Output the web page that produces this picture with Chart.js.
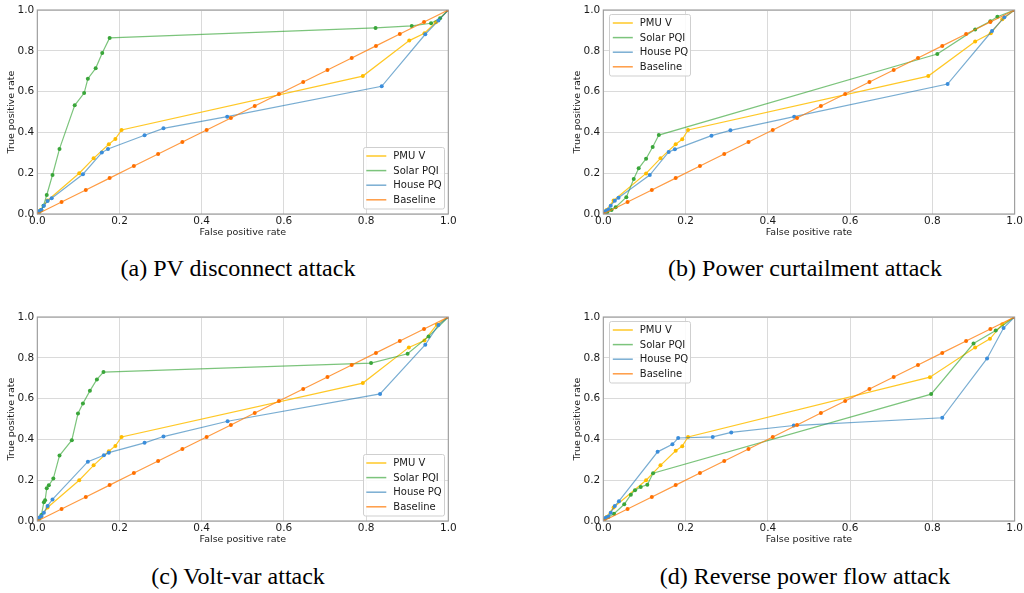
<!DOCTYPE html>
<html><head><meta charset="utf-8">
<script src="https://cdn.jsdelivr.net/npm/chart.js@4.4.1/dist/chart.umd.min.js"></script>
<style>
body{margin:0;background:#fff;width:1024px;height:593px;overflow:hidden;position:relative}
canvas{position:absolute}
.cap{position:absolute;font-family:"Liberation Serif","Times New Roman",serif;font-size:24px;color:#000;white-space:nowrap;transform:translate(-50%,-50%)}
</style></head><body>
<canvas id="ca" width="460" height="240" style="left:0;top:0"></canvas>
<canvas id="cb" width="458" height="240" style="left:566px;top:0"></canvas>
<canvas id="cc" width="460" height="240" style="left:0;top:307px"></canvas>
<canvas id="cd" width="458" height="240" style="left:566px;top:307px"></canvas>
<div class="cap" style="left:238px;top:268px">(a) PV disconnect attack</div>
<div class="cap" style="left:805px;top:268px">(b) Power curtailment attack</div>
<div class="cap" style="left:238px;top:576px">(c) Volt-var attack</div>
<div class="cap" style="left:805px;top:576px">(d) Reverse power flow attack</div>
<script>
// ---- data ----
const seriesNames = ["PMU V", "Solar PQI", "House PQ", "Baseline"];
const axisTicks = [0, 0.2, 0.4, 0.6, 0.8, 1.0];
const baseFpr = [0,0.059,0.118,0.176,0.235,0.294,0.353,0.412,0.471,0.529,0.588,0.647,0.706,0.765,0.824,0.882,0.941,1];
const baseTpr = [0,0.059,0.118,0.176,0.235,0.294,0.353,0.412,0.471,0.529,0.588,0.647,0.706,0.765,0.824,0.882,0.941,1];

// (a) PV disconnect attack
const aPmuFpr = [0,0.008,0.025,0.102,0.137,0.174,0.19,0.205,0.792,0.905,0.942,0.97,1];
const aPmuTpr = [0,0.02,0.066,0.2,0.273,0.342,0.368,0.412,0.676,0.85,0.886,0.94,1];
const aSolFpr = [0,0.005,0.01,0.015,0.023,0.037,0.054,0.091,0.114,0.123,0.142,0.158,0.176,0.823,0.911,0.958,0.98,1];
const aSolTpr = [0,0.01,0.02,0.04,0.093,0.191,0.319,0.533,0.593,0.663,0.714,0.789,0.863,0.912,0.922,0.935,0.96,1];
const aHouFpr = [0,0.005,0.01,0.016,0.025,0.035,0.111,0.157,0.172,0.261,0.307,0.462,0.838,0.944,0.976,1];
const aHouTpr = [0,0.015,0.021,0.041,0.064,0.077,0.195,0.301,0.319,0.386,0.42,0.477,0.626,0.881,0.948,1];

// (b) Power curtailment attack
const bPmuFpr = [0,0.008,0.025,0.104,0.139,0.176,0.192,0.206,0.79,0.904,0.942,0.97,1];
const bPmuTpr = [0,0.02,0.066,0.199,0.273,0.342,0.366,0.412,0.676,0.846,0.886,0.955,1];
const bSolFpr = [0,0.004,0.01,0.02,0.03,0.056,0.074,0.086,0.104,0.12,0.135,0.812,0.904,0.941,0.958,1];
const bSolTpr = [0,0.005,0.01,0.02,0.033,0.082,0.172,0.224,0.271,0.328,0.387,0.784,0.905,0.945,0.967,1];
const bHouFpr = [0,0.006,0.012,0.018,0.028,0.037,0.113,0.159,0.174,0.263,0.309,0.464,0.837,0.945,0.975,1];
const bHouTpr = [0,0.015,0.022,0.041,0.065,0.08,0.191,0.304,0.317,0.384,0.41,0.477,0.637,0.897,0.964,1];

// (c) Volt-var attack
const cPmuFpr = [0,0.008,0.025,0.102,0.137,0.174,0.19,0.205,0.792,0.904,0.942,0.972,1];
const cPmuTpr = [0,0.02,0.066,0.2,0.273,0.342,0.368,0.412,0.676,0.851,0.885,0.962,1];
const cSolFpr = [0,0.005,0.01,0.016,0.019,0.023,0.028,0.039,0.054,0.084,0.099,0.111,0.128,0.145,0.161,0.812,0.901,0.952,1];
const cSolTpr = [0,0.011,0.03,0.092,0.102,0.16,0.175,0.208,0.321,0.396,0.527,0.576,0.638,0.694,0.73,0.774,0.82,0.905,1];
const cHouFpr = [0,0.005,0.01,0.016,0.025,0.037,0.123,0.162,0.174,0.261,0.307,0.463,0.834,0.944,0.976,1];
const cHouTpr = [0,0.017,0.023,0.041,0.074,0.106,0.291,0.322,0.335,0.383,0.414,0.489,0.623,0.864,0.961,1];

// (d) Reverse power flow attack
const dPmuFpr = [0,0.008,0.025,0.104,0.139,0.176,0.192,0.206,0.794,0.904,0.94,0.97,1];
const dPmuTpr = [0,0.02,0.066,0.2,0.273,0.344,0.367,0.412,0.705,0.851,0.893,0.965,1];
const dSolFpr = [0,0.004,0.012,0.026,0.051,0.067,0.077,0.091,0.107,0.121,0.797,0.9,0.954,1];
const dSolTpr = [0,0.01,0.02,0.036,0.082,0.129,0.151,0.167,0.178,0.234,0.622,0.87,0.934,1];
const dHouFpr = [0,0.006,0.012,0.018,0.028,0.038,0.132,0.168,0.182,0.266,0.311,0.463,0.824,0.933,0.973,1];
const dHouTpr = [0,0.016,0.022,0.041,0.074,0.097,0.339,0.376,0.407,0.412,0.434,0.468,0.506,0.797,0.946,1];

// ---- styling ----
const lineColors = ['rgba(255,190,0,0.85)','rgba(44,160,44,0.62)','rgba(31,119,180,0.6)','rgba(255,127,14,0.78)'];
const markColors = ['#ffbc00','#3aa63a','#3a8ddb','#ff7000'];
const FONT = '"DejaVu Sans", Verdana, sans-serif';

function pts(xs, ys){ return xs.map((x,i)=>({x:x, y:ys[i]})); }

const framePlugin = {
  id:'frame',
  afterDatasetsDraw(chart){
    const {ctx, chartArea:a} = chart;
    ctx.save();
    ctx.strokeStyle = '#9a9a9a';
    ctx.lineWidth = 1.1;
    ctx.strokeRect(a.left, a.top, a.right-a.left, a.bottom-a.top);
    ctx.restore();
  }
};
const legendPlugin = {
  id:'mplLegend',
  afterDraw(chart, args, opts){
    const {ctx, chartArea:a} = chart;
    const w = 81, h = 61.5;
    const left = opts.corner === 'br' ? a.right - 4.5 - w : a.left + 6;
    const top = opts.corner === 'br' ? a.bottom - 5.5 - h : a.top + 4;
    ctx.save();
    ctx.fillStyle = 'rgba(255,255,255,0.85)';
    ctx.strokeStyle = '#cfcfcf';
    ctx.lineWidth = 1;
    ctx.beginPath();
    ctx.roundRect(Math.round(left)+0.5, Math.round(top)+0.5, w, h, 2);
    ctx.fill(); ctx.stroke();
    ctx.font = '10px ' + FONT;
    ctx.textBaseline = 'middle';
    chart.data.datasets.forEach((ds,i)=>{
      const y = top + 9 + i*14.6;
      ctx.strokeStyle = ds.borderColor;
      ctx.lineWidth = 1.5;
      ctx.beginPath(); ctx.moveTo(left+3.5, y); ctx.lineTo(left+23.5, y); ctx.stroke();
      ctx.fillStyle = '#1a1a1a';
      ctx.fillText(ds.label, left+30.5, y+0.5);
    });
    ctx.restore();
  }
};

function axis(title, isX){
  return {
    type:'linear', min:0, max:1,
    afterBuildTicks(s){ s.ticks = axisTicks.map(v=>({value:v})); },
    ticks:{ callback:v=>Number(v).toFixed(1), color:'#1a1a1a', font:{family:FONT,size:10.5}, padding: isX ? 1 : 3, maxRotation:0, autoSkip:false },
    grid:{ color:'#dadada', lineWidth:1, drawTicks:false },
    border:{ display:false },
    title:{ display:true, text:title, color:'#1a1a1a', font:{family:FONT,size:9.5}, padding: isX ? {top:0,bottom:2} : {top:6,bottom:0} },
    afterFit(s){ if(isX) s.height = 26; else s.width = 37.3; }
  };
}

function makePanel(id, series, corner, rightPad){
  const datasets = series.map((s,i)=>({
    label: seriesNames[i],
    data: pts(s[0], s[1]),
    borderColor: lineColors[i],
    borderWidth: 1.2,
    pointRadius: 2,
    pointBorderWidth: 0,
    pointBackgroundColor: markColors[i],
    tension: 0,
    fill: false,
    order: 3 - i
  }));
  new Chart(document.getElementById(id), {
    type:'line',
    data:{ datasets },
    options:{
      responsive:false, animation:false, events:[],
      layout:{ padding:{ left:0, right:rightPad, top:10, bottom:0 } },
      scales:{ x: axis('False positive rate', true), y: axis('True positive rate', false) },
      plugins:{ legend:{display:false}, tooltip:{enabled:false}, mplLegend:{corner} }
    },
    plugins:[framePlugin, legendPlugin]
  });
}

makePanel('ca', [[aPmuFpr,aPmuTpr],[aSolFpr,aSolTpr],[aHouFpr,aHouTpr],[baseFpr,baseTpr]], 'br', 11.7);
makePanel('cb', [[bPmuFpr,bPmuTpr],[bSolFpr,bSolTpr],[bHouFpr,bHouTpr],[baseFpr,baseTpr]], 'tl', 8.3);
makePanel('cc', [[cPmuFpr,cPmuTpr],[cSolFpr,cSolTpr],[cHouFpr,cHouTpr],[baseFpr,baseTpr]], 'br', 11.7);
makePanel('cd', [[dPmuFpr,dPmuTpr],[dSolFpr,dSolTpr],[dHouFpr,dHouTpr],[baseFpr,baseTpr]], 'tl', 8.3);
</script>
</body></html>
